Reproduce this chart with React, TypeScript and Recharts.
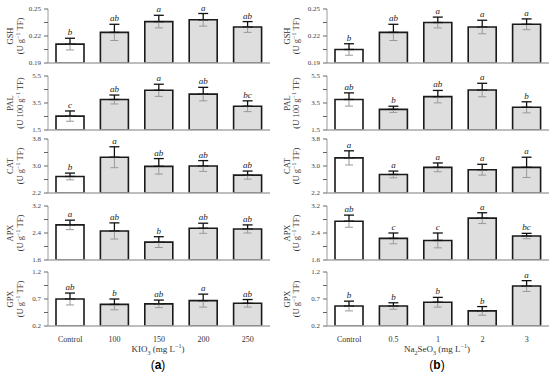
import React from 'react';
import { BarChart, Bar, XAxis, YAxis, ErrorBar, Cell } from 'recharts';

const kioDoses = ['Control', '100', '150', '200', '250'];
const seDoses = ['Control', '0.5', '1', '2', '3'];

// KIO3 treatment (a)
const kioGsh = [0.211, 0.224, 0.236, 0.238, 0.230];
const kioGshErr = [0.0065, 0.009, 0.007, 0.007, 0.006];
const kioGshSig = ['b', 'ab', 'a', 'a', 'ab'];
const kioPal = [2.53, 3.76, 4.44, 4.16, 3.26];
const kioPalErr = [0.38, 0.33, 0.45, 0.5, 0.4];
const kioPalSig = ['c', 'ab', 'a', 'ab', 'bc'];
const kioCat = [2.69, 3.26, 2.99, 3.0, 2.73];
const kioCatErr = [0.1, 0.31, 0.23, 0.16, 0.12];
const kioCatSig = ['b', 'a', 'ab', 'ab', 'ab'];
const kioApx = [2.64, 2.46, 2.13, 2.54, 2.52];
const kioApxErr = [0.14, 0.24, 0.16, 0.15, 0.12];
const kioApxSig = ['a', 'ab', 'b', 'ab', 'ab'];
const kioGpx = [0.7, 0.6, 0.61, 0.67, 0.62];
const kioGpxErr = [0.11, 0.1, 0.07, 0.12, 0.07];
const kioGpxSig = ['ab', 'b', 'ab', 'a', 'ab'];

// Na2SeO3 treatment (b)
const seGsh = [0.205, 0.224, 0.235, 0.23, 0.233];
const seGshErr = [0.0064, 0.009, 0.006, 0.0075, 0.006];
const seGshSig = ['b', 'ab', 'a', 'a', 'a'];
const sePal = [3.76, 3.03, 3.97, 4.46, 3.18];
const sePalErr = [0.49, 0.23, 0.46, 0.5, 0.41];
const sePalSig = ['ab', 'b', 'ab', 'a', 'b'];
const seCat = [3.24, 2.75, 2.96, 2.89, 2.96];
const seCatErr = [0.21, 0.1, 0.13, 0.16, 0.3];
const seCatSig = ['a', 'a', 'a', 'a', 'a'];
const seApx = [2.75, 2.24, 2.18, 2.84, 2.31];
const seApxErr = [0.18, 0.16, 0.22, 0.16, 0.08];
const seApxSig = ['ab', 'c', 'c', 'a', 'bc'];
const seGpx = [0.57, 0.57, 0.64, 0.48, 0.94];
const seGpxErr = [0.09, 0.06, 0.09, 0.08, 0.1];
const seGpxSig = ['b', 'b', 'b', 'b', 'a'];

const gshTicks = [0.19, 0.205, 0.22, 0.235, 0.25];
const palTicks = [1.5, 2.5, 3.5, 4.5, 5.5];
const catTicks = [2.2, 2.6, 3.0, 3.4, 3.8];
const apxTicks = [1.6, 2.0, 2.4, 2.8, 3.2];
const gpxTicks = [0.2, 0.45, 0.7, 0.95, 1.2];

const SERIF = '"Liberation Serif", "Times New Roman", serif';
const PLOT_H = 54;
const PAD = 14; // room above the plot for the letters

interface PanelProps {
  cats: string[];
  values: number[];
  errs: number[];
  sig: string[];
  ticks: number[];
  digits: number;
  name: string;
  unit: string;
  left: number;
  top: number;
  axisW: number;
  labelX: [number, number];
  bottom?: boolean;
}

const Panel = ({ cats, values, errs, sig, ticks, digits, name, unit, left, top, axisW, labelX, bottom }: PanelProps) => {
  const domain: [number, number] = [ticks[0], ticks[ticks.length - 1]];
  const data = cats.map((c, i) => ({ dose: c, value: values[i], up: [0, errs[i]], down: [errs[i], 0] }));
  const xH = bottom ? 16 : 2;
  const h = PAD + PLOT_H + xH + 2;

  const renderSig = (p: any) => {
    const vb = p.viewBox || p;
    const x = p.x ?? vb.x;
    const y = p.y ?? vb.y;
    const width = p.width ?? vb.width;
    const height = p.height ?? vb.height;
    const i = p.index;
    const perUnit = height / (values[i] - domain[0]);
    const errTop = y - errs[i] * perUnit;
    return (
      <text x={x + width / 2} y={errTop - 3} textAnchor="middle" fontStyle="italic" fontSize={9} fontFamily={SERIF} fill="#222">
        {sig[i]}
      </text>
    );
  };

  return (
    <>
      <svg style={{ position: 'absolute', left, top: top - PAD }} width={30} height={h}>
        <g transform={`translate(${labelX[0]}, ${PAD + PLOT_H / 2}) rotate(-90)`}>
          <text textAnchor="middle" fontSize={8.5} fontFamily={SERIF} fill="#333">{name}</text>
        </g>
        <g transform={`translate(${labelX[1]}, ${PAD + PLOT_H / 2}) rotate(-90)`}>
          <text textAnchor="middle" fontSize={8.5} fontFamily={SERIF} fill="#333">
            {`(${unit} g`}
            <tspan dy={-3} fontSize={6}>−1</tspan>
            <tspan dy={3}> TF)</tspan>
          </text>
        </g>
      </svg>
      <div style={{ position: 'absolute', left, top: top - PAD }}>
        <BarChart width={275} height={h} data={data} margin={{ top: PAD, right: 275 - axisW - 222, bottom: 2, left: 0 }} barSize={28}>
          <XAxis
            dataKey="dose"
            height={xH}
            axisLine={{ stroke: '#a8a8a8', strokeWidth: 1.5 }}
            tickLine={false}
            interval={0}
            tick={bottom ? { fontSize: 8, fill: '#333', fontFamily: SERIF } : false}
            tickMargin={4}
          />
          <YAxis
            width={axisW}
            domain={domain}
            ticks={ticks}
            allowDataOverflow
            interval={0}
            tickFormatter={(v: number, i: number) => (i % 2 === 0 ? v.toFixed(digits) : '')}
            axisLine={{ stroke: '#9a9a9a' }}
            tickLine={{ stroke: '#666' }}
            tickSize={4}
            tickMargin={3}
            tick={{ fontSize: 7, fill: '#444', fontFamily: SERIF }}
          />
          <Bar dataKey="value" stroke="#1a1a1a" strokeWidth={1.6} isAnimationActive={false} label={renderSig}>
            {data.map((d, i) => (
              <Cell key={d.dose} fill={i === 0 ? '#ffffff' : '#dedede'} />
            ))}
            <ErrorBar dataKey="down" width={4} stroke="#999" strokeWidth={1} isAnimationActive={false} />
            <ErrorBar dataKey="up" width={5} stroke="#111" strokeWidth={1.3} isAnimationActive={false} />
          </Bar>
        </BarChart>
      </div>
    </>
  );
};

const tops = [9, 75.5, 139, 206, 272];

const App = () => {
  const colA = { left: 0, axisW: 48, labelX: [13, 23] as [number, number], cats: kioDoses };
  const colB = { left: 275, axisW: 52, labelX: [15, 24] as [number, number], cats: seDoses };
  return (
    <div style={{ position: 'absolute', left: 0, top: 0, width: 550, height: 377, background: '#fff', overflow: 'hidden' }}>
      <Panel {...colA} top={tops[0]} values={kioGsh} errs={kioGshErr} sig={kioGshSig} ticks={gshTicks} digits={2} name="GSH" unit="U" />
      <Panel {...colA} top={tops[1]} values={kioPal} errs={kioPalErr} sig={kioPalSig} ticks={palTicks} digits={1} name="PAL" unit="U 100" />
      <Panel {...colA} top={tops[2]} values={kioCat} errs={kioCatErr} sig={kioCatSig} ticks={catTicks} digits={1} name="CAT" unit="U" />
      <Panel {...colA} top={tops[3]} values={kioApx} errs={kioApxErr} sig={kioApxSig} ticks={apxTicks} digits={1} name="APX" unit="U" />
      <Panel {...colA} top={tops[4]} values={kioGpx} errs={kioGpxErr} sig={kioGpxSig} ticks={gpxTicks} digits={1} name="GPX" unit="U" bottom />

      <Panel {...colB} top={tops[0]} values={seGsh} errs={seGshErr} sig={seGshSig} ticks={gshTicks} digits={2} name="GSH" unit="U" />
      <Panel {...colB} top={tops[1]} values={sePal} errs={sePalErr} sig={sePalSig} ticks={palTicks} digits={1} name="PAL" unit="U 100" />
      <Panel {...colB} top={tops[2]} values={seCat} errs={seCatErr} sig={seCatSig} ticks={catTicks} digits={1} name="CAT" unit="U" />
      <Panel {...colB} top={tops[3]} values={seApx} errs={seApxErr} sig={seApxSig} ticks={apxTicks} digits={1} name="APX" unit="U" />
      <Panel {...colB} top={tops[4]} values={seGpx} errs={seGpxErr} sig={seGpxSig} ticks={gpxTicks} digits={1} name="GPX" unit="U" bottom />

      <div style={{ position: 'absolute', left: 58, width: 200, top: 343, textAlign: 'center', fontFamily: SERIF, fontSize: 9, color: '#333' }}>
        KIO<sub style={{ fontSize: 6 }}>3</sub> (mg L<sup style={{ fontSize: 6 }}>−1</sup>)
      </div>
      <div style={{ position: 'absolute', left: 337, width: 200, top: 343, textAlign: 'center', fontFamily: SERIF, fontSize: 9, color: '#333' }}>
        Na<sub style={{ fontSize: 6 }}>2</sub>SeO<sub style={{ fontSize: 6 }}>3</sub> (mg L<sup style={{ fontSize: 6 }}>−1</sup>)
      </div>
      <div style={{ position: 'absolute', left: 58, width: 200, top: 358, textAlign: 'center', fontFamily: '"Liberation Sans", sans-serif', fontSize: 12 }}>
        (<b>a</b>)
      </div>
      <div style={{ position: 'absolute', left: 337, width: 200, top: 358, textAlign: 'center', fontFamily: '"Liberation Sans", sans-serif', fontSize: 12 }}>
        (<b>b</b>)
      </div>
    </div>
  );
};

export default App;
